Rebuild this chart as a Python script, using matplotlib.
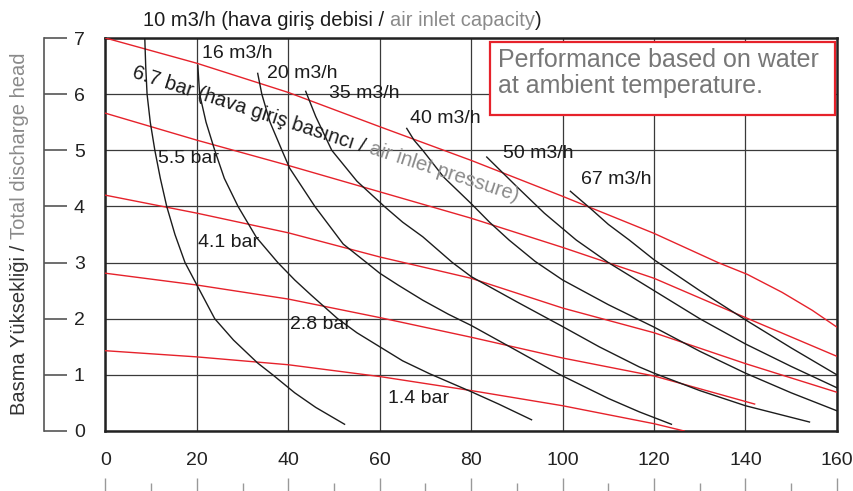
import numpy as np
import matplotlib
matplotlib.use('Agg')
import matplotlib.pyplot as plt
from matplotlib.patches import Rectangle
from matplotlib.transforms import offset_copy

plt.rcParams['font.family'] = ['Liberation Sans', 'DejaVu Sans']

# air inlet pressure curves (red), x = flow, y = head
p67_x = [0, 20, 40, 60, 80, 100, 120, 134, 140.4, 148, 154.6, 160]
p67_y = [7.0, 6.55, 6.03, 5.42, 4.82, 4.18, 3.52, 3.0, 2.79, 2.47, 2.15, 1.85]
p55_x = [0, 20, 40, 60, 80, 100, 120, 140, 160]
p55_y = [5.66, 5.18, 4.73, 4.26, 3.79, 3.27, 2.72, 2.02, 1.33]
p41_x = [0, 20, 40, 60, 80, 100, 120, 140, 160]
p41_y = [4.2, 3.88, 3.53, 3.1, 2.72, 2.19, 1.75, 1.2, 0.69]
p28_x = [0, 20, 40, 60, 80, 100, 120, 142]
p28_y = [2.81, 2.6, 2.35, 2.02, 1.67, 1.3, 0.98, 0.48]
p14_x = [0, 20, 40, 60, 80, 100, 120, 126.6]
p14_y = [1.43, 1.32, 1.18, 0.97, 0.72, 0.45, 0.13, 0.0]

# air consumption curves (black)
q10_x = [8.6, 8.8, 9.1, 9.8, 10.8, 12, 13.4, 15.2, 17.4, 20, 23.9, 28, 33.3, 36.6, 41.4, 46, 52.3]
q10_y = [7.0, 6.5, 6.0, 5.5, 5.0, 4.5, 4.0, 3.5, 3.0, 2.6, 2.0, 1.62, 1.21, 1.0, 0.68, 0.42, 0.12]
q16_x = [20.2, 20.6, 22, 23.9, 26, 29, 33, 37.7, 41.4, 45, 50.8, 55, 60, 65, 70.9, 80, 86, 93.2]
q16_y = [6.51, 6.0, 5.5, 5.0, 4.5, 4.0, 3.45, 3.0, 2.69, 2.42, 2.0, 1.75, 1.5, 1.25, 1.02, 0.7, 0.48, 0.2]
q20_x = [33.3, 34.2, 36, 38.6, 40.3, 45.8, 52, 57.1, 60, 64, 69.4, 75, 80, 90, 99.5, 110, 116.8, 123.8]
q20_y = [6.37, 6.0, 5.5, 5.0, 4.68, 4.0, 3.33, 3.0, 2.81, 2.6, 2.33, 2.08, 1.88, 1.43, 1.0, 0.58, 0.34, 0.12]
q35_x = [43.8, 46, 49.5, 55, 61, 65, 69.4, 75.9, 80, 84, 90, 100, 108, 116.8, 120, 130, 140, 154]
q35_y = [6.05, 5.6, 5.0, 4.45, 4.0, 3.72, 3.46, 3.0, 2.75, 2.57, 2.3, 1.86, 1.5, 1.14, 1.03, 0.72, 0.45, 0.16]
q40_x = [65.9, 67.5, 69.4, 74, 80, 84, 88.3, 94, 100, 110, 120, 130, 140, 150, 160]
q40_y = [5.39, 5.18, 5.0, 4.52, 4.05, 3.72, 3.40, 3.02, 2.69, 2.25, 1.85, 1.42, 1.03, 0.68, 0.36]
q50_x = [83.4, 90, 96, 103, 110, 120, 130, 140, 150, 160]
q50_y = [4.88, 4.35, 3.88, 3.40, 3.0, 2.5, 2.0, 1.55, 1.15, 0.77]
q67_x = [101.7, 106, 110, 114.6, 120, 130, 140, 150, 160]
q67_y = [4.27, 3.97, 3.68, 3.40, 3.05, 2.5, 1.98, 1.48, 1.0]

x_ticks = [0, 20, 40, 60, 80, 100, 120, 140, 160]
y_ticks = [0, 1, 2, 3, 4, 5, 6, 7]

RED = '#e6222b'
GRAY = '#8a8a8a'
DARK = '#1c1c1c'


def text_width(fig, s, size):
    r = fig.canvas.get_renderer()
    t = fig.text(0, 0, s + '|', fontsize=size)
    t2 = fig.text(0, 0, '|', fontsize=size)
    w = t.get_window_extent(r).width - t2.get_window_extent(r).width
    t.remove()
    t2.remove()
    return w


def colored_text(fig, x, y, parts, angle, transform, size):
    ux, uy = np.cos(np.radians(angle)), np.sin(np.radians(angle))
    shift = 0.0
    for s, c in parts:
        tr = offset_copy(transform, fig=fig, x=shift * ux, y=shift * uy, units='dots')
        fig.text(x, y, s, color=c, fontsize=size, rotation=angle, rotation_mode='anchor',
                 ha='left', va='baseline', transform=tr, zorder=7)
        shift += text_width(fig, s, size)


fig = plt.figure(figsize=(8.54, 4.91), dpi=100)
ax = fig.add_axes([0.1235, 0.1222, 0.8565, 0.8004])
ax.set_xlim(0, 160)
ax.set_ylim(0, 7)
ax.set_xticks(x_ticks)
ax.set_yticks(y_ticks)
ax.grid(True, color='#3a3a3a', lw=0.9)
ax.set_axisbelow(True)
ax.tick_params(axis='y', length=0, labelleft=False)
ax.tick_params(axis='x', length=0, pad=15, labelsize=14, labelcolor='#222222')
for sp in ax.spines.values():
    sp.set_linewidth(1.8)
    sp.set_color('#222222')

for xs, ys in [(p67_x, p67_y), (p55_x, p55_y), (p41_x, p41_y), (p28_x, p28_y), (p14_x, p14_y)]:
    ax.plot(xs, ys, color=RED, lw=1.0, zorder=3, solid_joinstyle='round')
for xs, ys in [(q10_x, q10_y), (q16_x, q16_y), (q20_x, q20_y), (q35_x, q35_y),
               (q40_x, q40_y), (q50_x, q50_y), (q67_x, q67_y)]:
    ax.plot(xs, ys, color=DARK, lw=1.0, zorder=3, solid_joinstyle='round')

# curve labels
for x, y, s in [(21.1, 6.64, '16 m3/h'), (35.3, 6.29, '20 m3/h'), (48.8, 5.93, '35 m3/h'),
                (66.7, 5.49, '40 m3/h'), (86.9, 4.86, '50 m3/h'), (104.1, 4.40, '67 m3/h'),
                (11.5, 4.77, '5.5 bar'), (20.2, 3.28, '4.1 bar'), (40.3, 1.82, '2.8 bar'),
                (61.7, 0.50, '1.4 bar')]:
    ax.text(x, y, s, fontsize=14, color=DARK, ha='left', va='baseline', zorder=6)

# note box
ax.add_patch(Rectangle((0.5256, 0.804), 0.4714, 0.186, transform=ax.transAxes,
                       facecolor='white', edgecolor=RED, lw=1.6, zorder=5))
ax.text(0.5366, 0.926, 'Performance based on water', transform=ax.transAxes,
        fontsize=18, color='#777777', va='baseline', zorder=6)
ax.text(0.5366, 0.860, 'at ambient temperature.', transform=ax.transAxes,
        fontsize=18, color='#777777', va='baseline', zorder=6)

# detached y scale on the left
axy = fig.add_axes([44 / 854, 0.1222, 23 / 854, 0.8004])
axy.set_ylim(0, 7)
axy.set_xlim(0, 1)
axy.set_yticks(y_ticks)
axy.set_xticks([])
axy.patch.set_alpha(0)
for s in ['top', 'right', 'bottom']:
    axy.spines[s].set_visible(False)
axy.spines['left'].set_color('#555555')
axy.spines['left'].set_linewidth(1.2)
axy.tick_params(axis='y', direction='in', length=16.6, width=1.2, color='#555555',
                left=True, right=False, labelleft=False, labelright=True,
                labelsize=14, labelcolor='#222222', pad=5)

# cut-off scale below the x labels
sec = ax.secondary_xaxis(-0.16)
sec.set_xticks(x_ticks)
sec.set_xticks(np.arange(10, 160, 20), minor=True)
sec.tick_params(which='major', direction='in', length=11.5, width=1, color='#999999', labelbottom=False)
sec.tick_params(which='minor', direction='in', length=8, width=1, color='#999999')
sec.spines['bottom'].set_visible(False)

# titles in two colours
colored_text(fig, 143 / 854, 0.947,
             [('10 m3/h (hava giriş debisi / ', DARK), ('air inlet capacity', GRAY), (')', DARK)],
             0, fig.transFigure, 14.5)
colored_text(fig, 25 / 854, 0.1548,
             [('Basma Yüksekliği / ', '#333333'), ('Total discharge head', GRAY)],
             90, fig.transFigure, 14.5)
colored_text(fig, 5.57, 6.31,
             [('6.7 bar (hava giriş basıncı / ', DARK), ('air inlet pressure)', GRAY)],
             -18, ax.transData, 14.5)

fig.savefig('out.png', dpi=100)
